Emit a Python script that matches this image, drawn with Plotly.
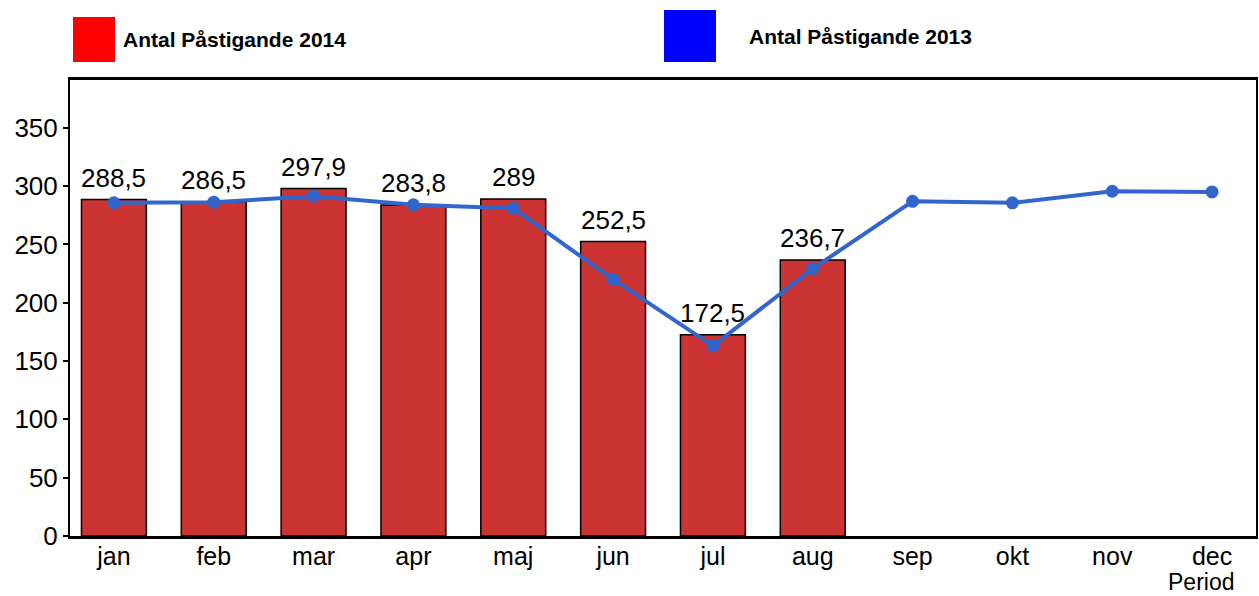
import plotly.graph_objects as go

months = ["jan", "feb", "mar", "apr", "maj", "jun", "jul", "aug", "sep", "okt", "nov", "dec"]
values_2014 = [288.5, 286.5, 297.9, 283.8, 289, 252.5, 172.5, 236.7]
values_2013 = [285.7, 286.2, 291.4, 284.0, 281.0, 220.0, 163.0, 229.2, 287.0, 285.7, 295.6, 295.0]
y_ticks = [0, 50, 100, 150, 200, 250, 300, 350]
series_names = ["Antal Påstigande 2014", "Antal Påstigande 2013"]
x_title = "Period"

FONT = "Liberation Sans, Arial, sans-serif"

fig = go.Figure()
fig.add_trace(go.Bar(
    x=months[:len(values_2014)], y=values_2014, width=0.65,
    marker=dict(color="#CC3333", line=dict(color="black", width=1.5)),
    showlegend=False, name=series_names[0],
))
fig.add_trace(go.Scatter(
    x=months, y=values_2013, mode="lines+markers",
    line=dict(color="#3366CC", width=4),
    marker=dict(color="#3366CC", size=13),
    showlegend=False, name=series_names[1],
))

for m, v in zip(months, values_2014):
    fig.add_annotation(x=m, y=v, text=f"{v:g}".replace(".", ","), showarrow=False,
                       yanchor="bottom", yshift=5,
                       font=dict(family=FONT, size=26, color="black"))

# legend drawn manually
L, R, T, B = 70, 1256, 80, 536
def px(x):
    return (x - L) / (R - L)
def py(y):
    return (B - y) / (B - T)

fig.add_shape(type="rect", xref="paper", yref="paper", x0=px(73), x1=px(115), y0=py(62), y1=py(17),
              fillcolor="#FF0000", line=dict(width=0))
fig.add_shape(type="rect", xref="paper", yref="paper", x0=px(664), x1=px(716), y0=py(62), y1=py(10),
              fillcolor="#0000FF", line=dict(width=0))
fig.add_annotation(xref="paper", yref="paper", x=px(121), y=py(39), text=f"<b>{series_names[0]}</b>",
                   showarrow=False, xanchor="left", yanchor="middle",
                   font=dict(family=FONT, size=21, color="black"))
fig.add_annotation(xref="paper", yref="paper", x=px(747), y=py(37), text=f"<b>{series_names[1]}</b>",
                   showarrow=False, xanchor="left", yanchor="middle",
                   font=dict(family=FONT, size=21, color="black"))
fig.add_annotation(xref="paper", yref="paper", x=px(1201), y=py(582), text=x_title,
                   showarrow=False, xanchor="center", yanchor="middle",
                   font=dict(family=FONT, size=23, color="black"))

fig.update_layout(
    width=1259, height=596,
    margin=dict(l=L, r=1259 - R, t=T, b=596 - B, autoexpand=False),
    plot_bgcolor="white", paper_bgcolor="white",
    font=dict(family=FONT, size=25, color="black"),
)
fig.update_xaxes(
    type="category", categoryorder="array", categoryarray=months,
    range=[-0.44, 11.44], showgrid=False, showline=True, linecolor="black", linewidth=3,
    mirror=True, ticks="", ticklabelstandoff=-4, tickfont=dict(family=FONT, size=25, color="black"),
)
fig.update_yaxes(
    range=[0, 391], tickvals=y_ticks, showgrid=False, zeroline=False,
    showline=True, linecolor="black", linewidth=2, mirror=True,
    ticks="outside", ticklen=5, tickwidth=2, tickcolor="black",
    tickfont=dict(family=FONT, size=26, color="black"),
)

fig.write_html("out.html", config={"displayModeBar": False},
               post_script="document.body.style.margin='0';")
